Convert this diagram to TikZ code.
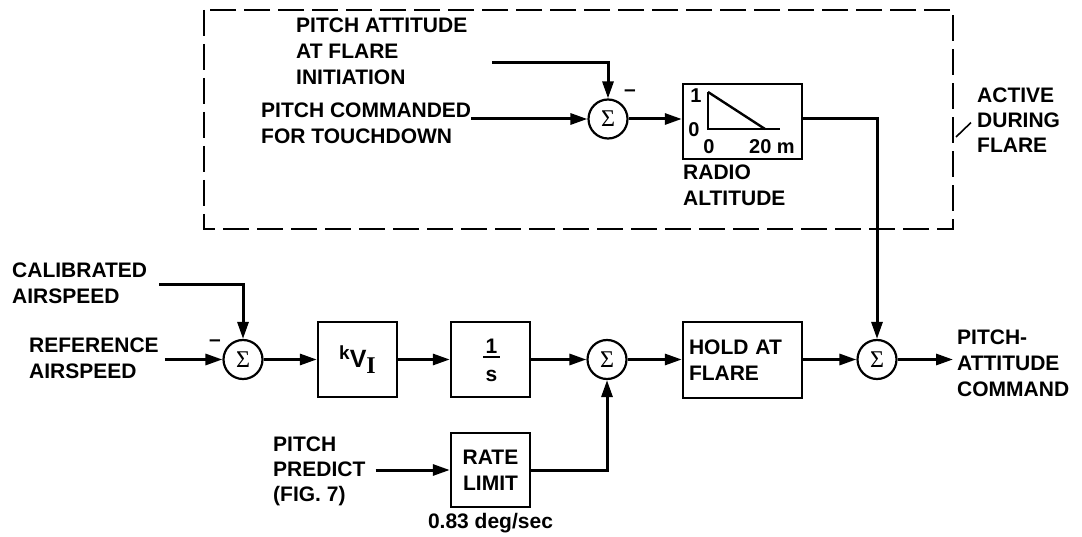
\documentclass[tikz,border=0pt]{standalone}
\usepackage{fontspec}
\setmainfont{Liberation Sans}
\newfontfamily\serifb{Liberation Serif}
\usetikzlibrary{arrows.meta,calc}
\begin{document}
\begin{tikzpicture}[x=1pt,y=-1pt,
  lbl/.style={font=\bfseries\fontsize{21}{26}\selectfont, inner sep=0pt, align=left, anchor=north west},
  glbl/.style={font=\bfseries\fontsize{20}{20}\selectfont, inner sep=0pt},
  blk/.style={draw, line width=2.4pt, inner sep=0pt, font=\bfseries\fontsize{21}{26}\selectfont},
  sumnode/.style={draw, circle, line width=2.2pt, minimum size=39pt, inner sep=0pt, font=\serifb\fontsize{24}{24}\selectfont},
  arr/.style={line width=3pt, -{Triangle[length=17pt,width=11pt]}},
  thin/.style={line width=2.4pt},
  minus/.style={font=\bfseries\fontsize{21}{21}\selectfont, inner sep=0pt},
]
\useasboundingbox (0,0) rectangle (1082,537);

% dashed region
\draw[line width=2.2pt, dash pattern=on 26pt off 8pt] (204,10) rectangle (953,229);

% summing junctions
\node[sumnode] (stop) at (608,119) {Σ};
\node[sumnode] (sin)  at (243,359.5) {Σ};
\node[sumnode] (smid) at (607,359.5) {Σ};
\node[sumnode] (sout) at (877,359.5) {Σ};

% blocks
\node[blk, minimum width=119pt, minimum height=75pt] (radio) at (742.5,121.5) {};
\node[blk, minimum width=79pt, minimum height=75pt] (kvi) at (357.5,359.5)
  {\raisebox{8pt}{\fontsize{19}{19}\selectfont k}\fontsize{25}{25}\selectfont V\raisebox{-6pt}{\serifb\bfseries\fontsize{24}{24}\selectfont I}};
\node[blk, minimum width=79pt, minimum height=75pt] (ints) at (490.5,359.5) {};
\node[blk, text width=107pt, inner xsep=6pt, minimum height=76pt, align=left] (hold) at (742.5,360) {HOLD AT\\FLARE};
\node[blk, minimum width=79pt, minimum height=74pt, align=center] (rate) at (490.5,470) {RATE\\LIMIT};

% 1/s content
\node[glbl, font=\bfseries\fontsize{21}{21}\selectfont] (one) at (491.5,346) {1};
\draw[thin] (483,357) -- (500,357);
\node[glbl, font=\bfseries\fontsize{21}{21}\selectfont] (ess) at (491.5,376) {s};

% radio altitude graph
\draw[thin] (708,92) -- (708,129) -- (780,129);
\draw[thin] (708,92) -- (765,129);
\node[glbl] (g1) at (696,96) {1};
\node[glbl] (g0) at (694,130) {0};
\node[glbl] (gx0) at (709,147) {0};
\node[glbl] (gx20) at (772,147) {20 m};

% labels
\node[lbl] (pa) at (296,18) {PITCH ATTITUDE\\AT FLARE\\INITIATION};
\node[lbl] (pc) at (261,103) {PITCH COMMANDED\\FOR TOUCHDOWN};
\node[lbl] (ra) at (683,165) {RADIO\\ALTITUDE};
\node[lbl, font=\bfseries\fontsize{21}{25}\selectfont] (act) at (977,88) {ACTIVE\\DURING\\FLARE};
\node[lbl] (cal) at (12,263) {CALIBRATED\\AIRSPEED};
\node[lbl] (ref) at (29,338) {REFERENCE\\AIRSPEED};
\node[lbl, font=\bfseries\fontsize{21}{25}\selectfont] (pp) at (273,437) {PITCH\\PREDICT\\(FIG. 7)};
\node[lbl] (pac) at (957,330) {PITCH-\\ATTITUDE\\COMMAND};
\node[lbl, anchor=north] (rl) at (490.5,513) {0.83 deg/sec};
\node[minus] (m1) at (630,93) {–};
\node[minus] (m2) at (215,343) {–};

% connectors
\coordinate (pain) at (492,63);
\draw[arr] (pain) -| (stop.north);
\draw[arr] (pc.east |- stop.west) -- (stop.west);
\draw[arr] (stop.east) -- (stop.east -| radio.west);
\draw[arr] (radio.east |- stop.east) -| (sout.north);
\draw[arr] ($(cal.east)+(12,1)$) -| (sin.north);
\draw[arr] ($(ref.east |- sin.west)+(6,0)$) -- (sin.west);
\draw[arr] (sin.east) -- (kvi.west);
\draw[arr] (kvi.east) -- (ints.west);
\draw[arr] (ints.east) -- (smid.west);
\draw[arr] (smid.east) -- (smid.east -| hold.west);
\draw[arr] (sout.west -| hold.east) -- (sout.west);
\coordinate (outend) at (953,359.5);
\draw[arr] (sout.east) -- (outend);
\draw[arr] ($(pp.east |- rate.west)+(10,0)$) -- (rate.west);
\draw[arr] (rate.east) -| (smid.south);
\coordinate (lead) at (956,137);
\draw[line width=1.6pt] (lead) -- ($(act.west)+(-6,2)$);
\end{tikzpicture}
\end{document}
